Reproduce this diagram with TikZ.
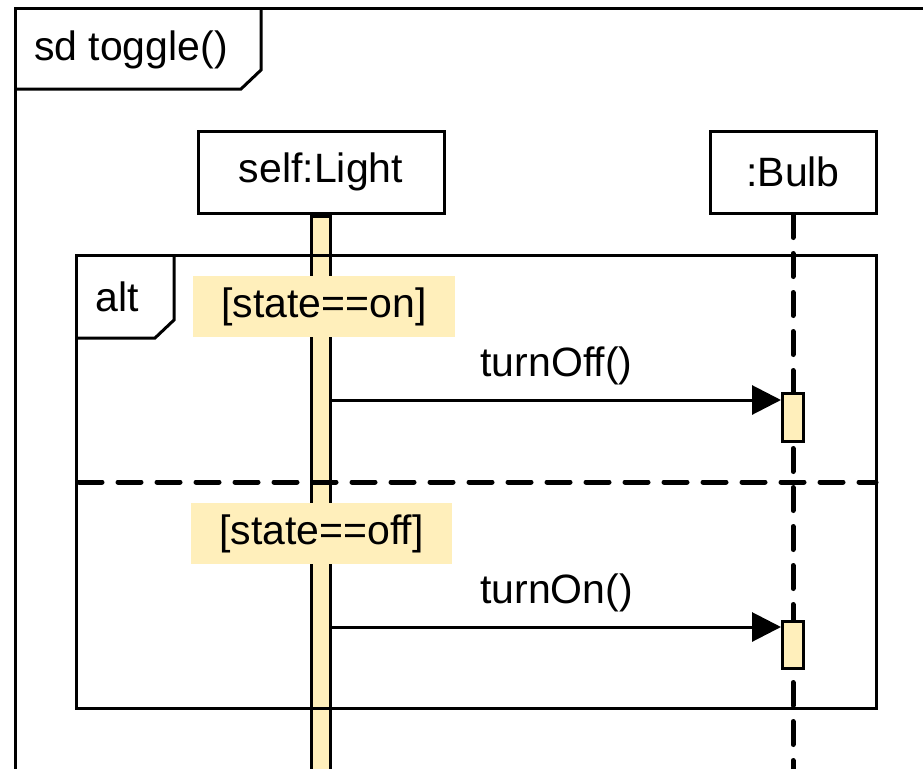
\documentclass[tikz,border=0pt]{standalone}
\usepackage{fontspec}
\setmainfont{Liberation Sans}
\usetikzlibrary{arrows.meta}
\definecolor{actfill}{RGB}{255,239,187}

\begin{document}
\begin{tikzpicture}[x=1pt,y=-1pt,line join=miter,
    frame/.style={line width=3pt},
    lbl/.style={font=\fontsize{41}{49}\selectfont},
    lifebox/.style={draw,lbl,line width=3pt,minimum height=82pt,inner sep=0pt},
    act/.style={draw,fill=actfill,line width=3pt,inner sep=0pt},
    guard/.style={fill=actfill,lbl,inner sep=0pt,minimum height=61pt},
    lifeline/.style={line width=5pt,line cap=round,dash pattern=on 23pt off 16pt},
    msg/.style={line width=3pt,-{Triangle[length=29pt,width=29pt]}}]

  \clip (0,0) rectangle (923,768);

  % sd frame
  \draw[frame] (15,800) -- (15,9) -- (940,9);
  \draw[frame] (15,89) -- (241,89) -- (261,70) -- (261,9);
  \node[lbl] (title) at (131,50) {sd toggle()};

  % lifelines
  \node[lifebox,minimum width=246pt] (light) at (321,172) {self:Light};
  \node[lifebox,minimum width=166pt] (bulb) at (793,172) {:Bulb};
  \node[act,minimum width=19pt,minimum height=600pt,anchor=north] (lightact) at (light.south) {};
  \coordinate (bulbend) at (bulb.south |- 0,800);
  \draw[lifeline] (bulb.south) -- (bulbend);

  % alt fragment
  \draw[frame] (76,255) rectangle (876,708);
  \draw[frame] (76,338) -- (155,338) -- (174,320) -- (174,255);
  \node[lbl] (alt) at (117,297) {alt};
  \draw[lifeline] (79,482) -- (876,482);

  \node[guard,minimum width=262pt] (guardon) at (324,306.5) {[state==on]};
  \node[guard,minimum width=261pt] (guardoff) at (321.5,533.5) {[state==off]};

  % messages
  \node[act,minimum width=21pt,minimum height=48pt,anchor=north] (offact) at (793,392) {};
  \node[act,minimum width=21pt,minimum height=47pt,anchor=north] (onact) at (793,620) {};
  \coordinate (offcall) at (lightact.east |- 0,400);
  \coordinate (oncall) at (lightact.east |- 0,627);
  \draw[msg] (offcall) -- (offcall -| offact.west)
    node[lbl,midway,above=10pt] (offlbl) {turnOff()};
  \draw[msg] (oncall) -- (oncall -| onact.west)
    node[lbl,midway,above=10pt] (onlbl) {turnOn()};
\end{tikzpicture}
\end{document}
